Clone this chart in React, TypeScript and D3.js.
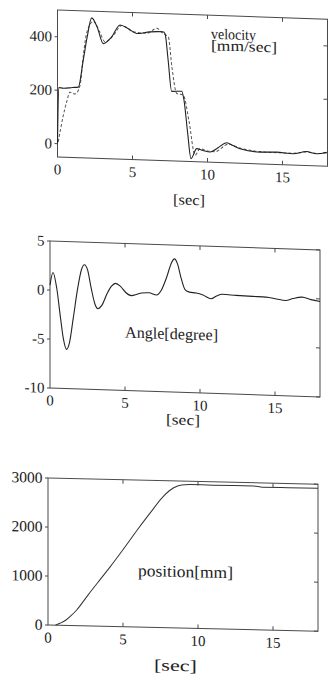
import React from 'react';
import * as d3 from 'd3';

const W = 329;
const H = 678;

// ---------- data ----------
const timeTicks = [0, 5, 10, 15];
const timeDomain = [0, 18];

// velocity [mm/sec] – solid (measured)
const velTimeSolid = [0, 0.08, 0.4, 1.0, 1.39, 1.7, 1.97, 2.28, 2.65, 3.05, 3.6, 4.17, 4.7, 5.28, 6.17, 7.03, 7.17, 7.37, 7.61, 8.28, 8.43, 8.67, 8.9, 9.28, 9.7, 10.17, 10.7, 11.28, 11.7, 12.17, 13.5, 14.6, 15.7, 16.6, 17.28, 17.95];
const velSolid = [0, 210, 208, 212, 214, 310, 400, 475, 440, 380, 405, 452, 440, 422, 430, 432, 425, 330, 210, 212, 180, 60, -39, -1, -7, -12, 5, 25, 15, 4, -6, -4, -8, 2, -5, 2];
// velocity – dashed (reference)
const velTimeDashed = [0.05, 0.39, 0.61, 0.83, 1.17, 1.5, 1.72, 1.95, 2.4, 2.8, 3.17, 3.7, 4.28, 5.05, 5.95, 6.61, 7.05, 7.39, 7.63, 7.95, 8.39, 8.77, 9.17, 9.5, 10.0, 10.5, 11.4, 12.2, 13.5, 14.6, 15.7, 16.6, 17.3, 17.95];
const velDashed = [7, 107, 157, 194, 188, 220, 332, 419, 462, 425, 387, 410, 450, 428, 424, 444, 425, 413, 300, 203, 197, 100, -26, -1, -8, -10, 20, 6, -4, -6, -6, 0, -4, 0];
const velTicks = [0, 200, 400];
const velDomain = [-50, 500];

// angle [degree]
const angleTime = [0, 0.2, 0.45, 0.7, 0.9, 1.1, 1.3, 1.55, 1.85, 2.1, 2.3, 2.5, 2.75, 3.0, 3.2, 3.45, 3.8, 4.1, 4.38, 4.7, 5.05, 5.42, 5.8, 6.1, 6.6, 7.1, 7.4, 7.8, 8.1, 8.3, 8.5, 8.75, 9.0, 9.3, 9.74, 10.2, 10.74, 11.1, 11.5, 12.4, 13.5, 14.4, 15.1, 15.7, 16.2, 16.8, 17.4, 18.0];
const angleValues = [0.5, 1.8, 0.2, -2.8, -5.0, -6.0, -5.3, -2.8, 0.3, 2.2, 2.7, 2.2, 0.3, -1.3, -1.75, -1.4, -0.2, 0.6, 0.9, 0.6, 0.0, -0.3, -0.15, 0.0, 0.05, -0.15, 0.3, 1.8, 3.2, 3.6, 3.1, 1.6, 0.5, 0.25, 0.18, 0.0, -0.35, -0.05, 0.14, 0.08, 0.03, 0.0, -0.15, -0.28, -0.05, 0.12, -0.1, -0.26];
const angleTicks = [-10, -5, 0, 5];
const angleDomain = [-10, 5];

// position [mm]
const posTime = [0.5, 0.8, 1.2, 1.5, 1.91, 2.69, 3.47, 4.13, 5.02, 5.9, 6.8, 7.69, 8.35, 8.9, 9.5, 11, 13.7, 14.3, 16, 18];
const posValues = [0, 40, 110, 190, 320, 640, 950, 1210, 1580, 1960, 2330, 2680, 2855, 2922, 2935, 2932, 2935, 2912, 2915, 2920];
const posTicks = [0, 1000, 2000, 3000];
const posDomain = [0, 3000];

const FONT = "'Liberation Serif', 'Times New Roman', serif";
const INK = '#333';

type Series = { t: number[]; v: number[]; dash?: string; width?: number; color?: string };
type Label = { text: string; x: number; y: number; len: number; size: number };

function Panel(props: {
  left: number; right: number; top: number; bottom: number; skew: number;
  yDomain: number[]; yTicks: number[]; yFont: number;
  series: Series[]; labels: Label[];
}) {
  const { left, right, top, bottom, skew, yDomain, yTicks, yFont, series, labels } = props;
  const x = d3.scaleLinear().domain(timeDomain).range([left, right]);
  const y = d3.scaleLinear().domain(yDomain).range([bottom, top]);
  const tr = `matrix(1,${skew},0,1,0,${-skew * left})`;
  const line = d3.line<[number, number]>()
    .x(d => x(d[0]))
    .y(d => y(d[1]))
    .curve(d3.curveMonotoneX);
  return (
    <g transform={tr}>
      <rect x={left} y={top} width={right - left} height={bottom - top} fill="none" stroke="#4a4a4a" strokeWidth={1} />
      {timeTicks.map(t => (
        <g key={'xt' + t}>
          {t !== 0 && <line x1={x(t)} x2={x(t)} y1={bottom} y2={bottom - 4} stroke="#4a4a4a" />}
          {t !== 0 && <line x1={x(t)} x2={x(t)} y1={top} y2={top + 4} stroke="#4a4a4a" />}
          <text x={x(t)} y={bottom + 17.5} textAnchor="middle" fontFamily={FONT} fontSize={15} fill="#222">{t}</text>
        </g>
      ))}
      {yTicks.map(v => (
        <g key={'yt' + v}>
          <line x1={left - 3} x2={left} y1={y(v)} y2={y(v)} stroke="#4a4a4a" />
          <line x1={right - 4} x2={right} y1={y(v)} y2={y(v)} stroke="#4a4a4a" />
          <text x={left - 5.5} y={y(v) + 5} textAnchor="end" fontFamily={FONT} fontSize={yFont} fill="#222">{v}</text>
        </g>
      ))}
      {series.map((s, i) => (
        <path key={'s' + i}
          d={line(s.t.map((t, j) => [t, s.v[j]] as [number, number])) || ''}
          fill="none" stroke={s.color || INK} strokeWidth={s.width || 1}
          strokeDasharray={s.dash} />
      ))}
      {labels.map((l, i) => (
        <text key={'l' + i} x={l.x} y={l.y} fontFamily={FONT} fontSize={l.size} fill="#222"
          textLength={l.len} lengthAdjust="spacingAndGlyphs">{l.text}</text>
      ))}
    </g>
  );
}

export default function App() {
  return (
    <svg width={W} height={H} style={{ position: 'absolute', left: 0, top: 0, display: 'block', background: '#fff' }}>
      <rect x={0} y={0} width={W} height={H} fill="#fff" />
      <Panel left={57.5} right={327.5} top={10} bottom={157} skew={0.034}
        yDomain={velDomain} yTicks={velTicks} yFont={15}
        series={[
          { t: velTimeDashed, v: velDashed, dash: '3 2', color: '#555', width: 1 },
          { t: velTimeSolid, v: velSolid, color: '#222', width: 1.1 },
        ]}
        labels={[
          { text: 'velocity', x: 211, y: 33.5, len: 45, size: 15 },
          { text: '[mm/sec]', x: 211, y: 45, len: 66, size: 15 },
          { text: '[sec]', x: 173, y: 200.5, len: 32, size: 15 },
        ]} />
      <Panel left={50} right={320} top={241} bottom={388} skew={0.033}
        yDomain={angleDomain} yTicks={angleTicks} yFont={15}
        series={[{ t: angleTime, v: angleValues, color: '#222', width: 1.1 }]}
        labels={[
          { text: 'Angle[degree]', x: 125, y: 335, len: 93, size: 16 },
          { text: '[sec]', x: 166, y: 420.5, len: 34, size: 15 },
        ]} />
      <Panel left={48} right={318} top={478} bottom={625} skew={0.023}
        yDomain={posDomain} yTicks={posTicks} yFont={15.5}
        series={[{ t: posTime, v: posValues, color: '#333', width: 1 }]}
        labels={[
          { text: 'position[mm]', x: 138, y: 574, len: 95, size: 16.5 },
          { text: '[sec]', x: 154, y: 668, len: 43, size: 16 },
        ]} />
    </svg>
  );
}
